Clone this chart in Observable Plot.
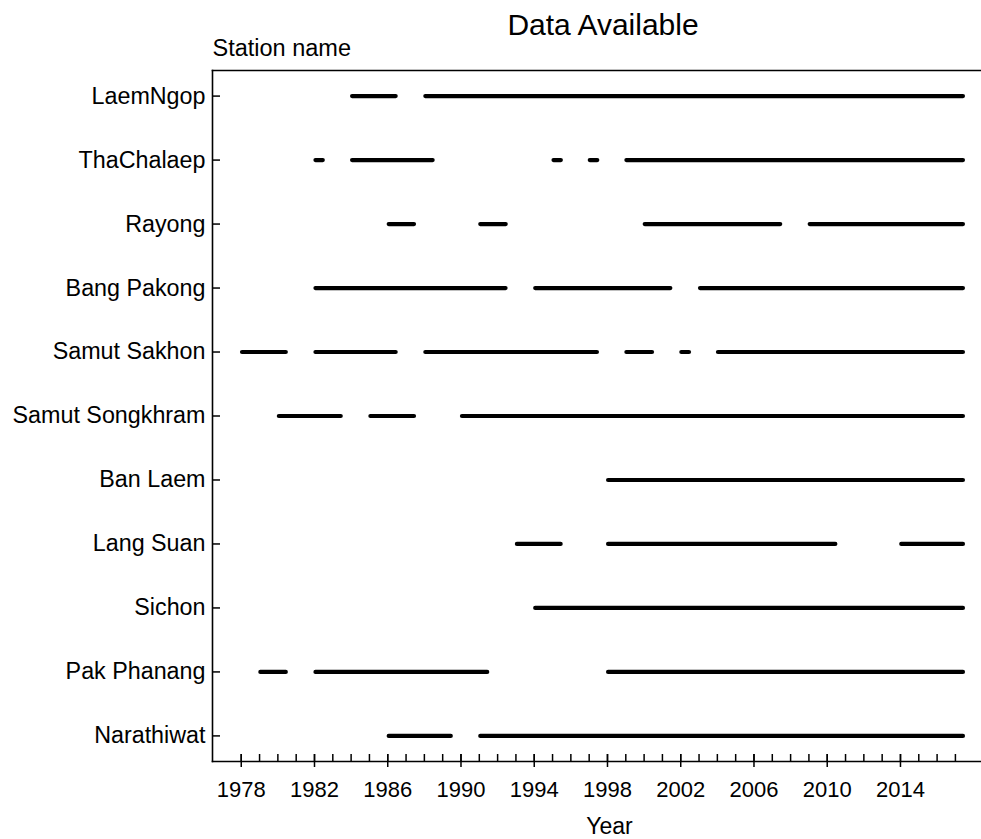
<!DOCTYPE html>
<html>
<head>
<meta charset="utf-8">
<script src="https://cdn.jsdelivr.net/npm/d3@7"></script>
<script src="https://cdn.jsdelivr.net/npm/@observablehq/plot@0.6"></script>
<style>
  html, body { margin: 0; padding: 0; background: white; overflow: hidden; }
  body { font-family: "Liberation Sans", Arial, sans-serif; }
  #title { box-sizing: border-box; height: 40px; margin-left: 212px; width: 782px;
    text-align: center; font-size: 30px; line-height: 30px; padding-top: 10px; color: black; }
  svg { max-width: none !important; display: block; }
</style>
</head>
<body>
<div id="title">Data Available</div>
<div id="chart"></div>
<script>
// Stations, top to bottom
const stations = ["LaemNgop", "ThaChalaep", "Rayong", "Bang Pakong", "Samut Sakhon",
  "Samut Songkhram", "Ban Laem", "Lang Suan", "Sichon", "Pak Phanang", "Narathiwat"];

// Data-available periods per station: [start, end] in decimal years
const laemNgop       = [[1984.08, 1986.46], [1988.08, 2017.44]];
const thaChalaep     = [[1982.08, 1982.48], [1984.08, 1988.48], [1995.08, 1995.48], [1997.06, 1997.47], [1999.06, 2017.44]];
const rayong         = [[1986.08, 1987.46], [1991.08, 1992.47], [2000.06, 2007.46], [2009.07, 2017.44]];
const bangPakong     = [[1982.08, 1992.46], [1994.08, 2001.46], [2003.08, 2017.44]];
const samutSakhon    = [[1978.07, 1980.46], [1982.08, 1986.46], [1988.08, 1997.45], [1999.06, 2000.46], [2002.06, 2002.48], [2004.06, 2017.44]];
const samutSongkhram = [[1980.08, 1983.46], [1985.08, 1987.46], [1990.08, 2017.44]];
const banLaem        = [[1998.06, 2017.44]];
const langSuan       = [[1993.08, 1995.47], [1998.06, 2010.47], [2014.07, 2017.44]];
const sichon         = [[1994.08, 2017.44]];
const pakPhanang     = [[1979.07, 1980.46], [1982.08, 1991.46], [1998.06, 2017.44]];
const narathiwat     = [[1986.08, 1989.47], [1991.08, 2017.44]];

const periodsByStation = [laemNgop, thaChalaep, rayong, bangPakong, samutSakhon,
  samutSongkhram, banLaem, langSuan, sichon, pakPhanang, narathiwat];

// Axis ticks
const majorYears = [1978, 1982, 1986, 1990, 1994, 1998, 2002, 2006, 2010, 2014];
const minorYears = d3.range(1978, 2018);

const segments = periodsByStation.flatMap((list, i) =>
  list.map(([start, end]) => ({station: stations[i], start, end})));

const width = 994, height = 799;
const marginLeft = 212, marginRight = 1, marginTop = 30, marginBottom = 78;
const frameW = width - marginLeft - marginRight;
const frameH = height - marginTop - marginBottom;

const chart = Plot.plot({
  width, height, marginLeft, marginRight, marginTop, marginBottom,
  style: {fontFamily: '"Liberation Sans", Arial, sans-serif', color: "black",
    background: "white", overflow: "visible", maxWidth: "none"},
  x: {domain: [1976.43, 2019.08], label: null},
  y: {type: "point", domain: stations, padding: 0.4, round: false, label: null},
  marks: [
    Plot.frame({anchor: "top", stroke: "black", strokeWidth: 1.6}),
    Plot.frame({anchor: "left", stroke: "black", strokeWidth: 1.6}),
    Plot.frame({anchor: "bottom", stroke: "black", strokeWidth: 1.6}),
    // x minor ticks (inward)
    Plot.ruleX(minorYears, {x: d => d, insetTop: frameH - 7, stroke: "black", strokeWidth: 1.5}),
    // x major ticks (crossing)
    Plot.ruleX(majorYears, {x: d => d, insetTop: frameH - 7, insetBottom: -6, stroke: "black", strokeWidth: 1.5}),
    // y ticks (inward)
    Plot.ruleY(stations, {y: d => d, insetRight: frameW - 8, stroke: "black", strokeWidth: 1.5}),
    Plot.axisX({ticks: majorYears, tickSize: 0, tickPadding: 20, tickFormat: d => String(d),
      fontSize: 22, label: null}),
    Plot.axisY({tickSize: 0, tickPadding: 7, fontSize: 23.3, label: null}),
    Plot.ruleY(segments, {y: "station", x1: "start", x2: "end", stroke: "black",
      strokeWidth: 4.2, strokeLinecap: "round"}),
    Plot.text(["Station name"], {frameAnchor: "top-left", textAnchor: "start", lineAnchor: "middle",
      dy: -22, fontSize: 23.5, fill: "black"}),
    Plot.text(["Year"], {frameAnchor: "bottom", lineAnchor: "middle", dx: 6.5, dy: 65,
      fontSize: 23, fill: "black"})
  ]
});
document.getElementById("chart").appendChild(chart);
</script>
</body>
</html>
